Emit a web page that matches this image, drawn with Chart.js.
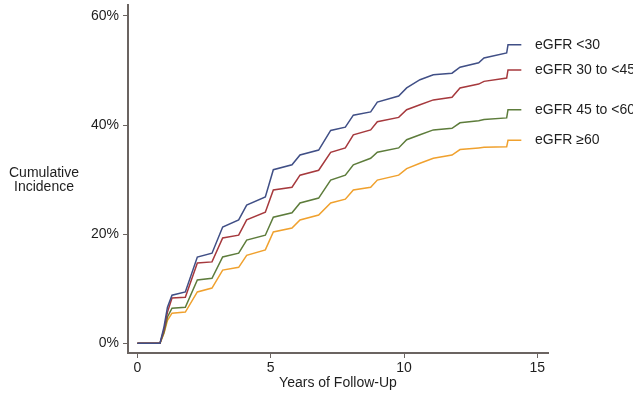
<!DOCTYPE html>
<html>
<head>
<meta charset="utf-8">
<script src="https://cdn.jsdelivr.net/npm/chart.js@4"></script>
<style>
  html, body { margin: 0; padding: 0; background: #fff; }
  #wrap { width: 633px; height: 393px; }
</style>
</head>
<body>
<div id="wrap"><canvas id="chart" width="633" height="393"></canvas></div>
<script>
// follow-up time (years), shared by all four curves
const years = [0, 0.85, 1.0, 1.13, 1.3, 1.8, 2.25, 2.8, 3.2, 3.8, 4.1, 4.8, 5.1, 5.8, 6.1, 6.8, 7.25, 7.8, 8.1, 8.75, 9.0, 9.8, 10.1, 10.6, 11.1, 11.8, 12.1, 12.8, 13.0, 13.85, 13.9, 14.4]

const egfrLt30   = [0, 0, 3.0, 6.6, 8.8, 9.4, 15.8, 16.5, 21.3, 22.6, 25.3, 26.8, 31.8, 32.7, 34.5, 35.4, 39.0, 39.6, 41.8, 42.4, 44.2, 45.3, 46.8, 48.3, 49.2, 49.5, 50.6, 51.4, 52.3, 53.2, 54.7, 54.7]
const egfr30to45 = [0, 0, 2.5, 5.7, 8.3, 8.4, 14.7, 14.9, 19.3, 19.8, 22.6, 24.0, 28.1, 28.6, 30.8, 31.7, 35.0, 35.8, 38.2, 39.1, 40.6, 41.4, 42.8, 43.7, 44.6, 45.1, 46.8, 47.5, 48.0, 48.6, 50.1, 50.1]
const egfr45to60 = [0, 0, 2.0, 4.8, 6.4, 6.6, 11.6, 11.9, 15.8, 16.5, 18.9, 19.8, 23.1, 23.9, 25.7, 26.6, 29.9, 30.8, 32.7, 33.9, 35.0, 35.8, 37.3, 38.2, 39.1, 39.4, 40.4, 40.8, 41.0, 41.3, 42.8, 42.8]
const egfrGe60   = [0, 0, 1.8, 4.2, 5.5, 5.7, 9.4, 10.1, 13.4, 13.9, 16.1, 17.1, 20.4, 21.1, 22.6, 23.5, 25.7, 26.4, 28.1, 28.6, 29.9, 30.8, 32.0, 33.0, 33.9, 34.5, 35.5, 35.8, 35.9, 36.0, 37.2, 37.2]

const seriesLabels = ['eGFR <30', 'eGFR 30 to <45', 'eGFR 45 to <60', 'eGFR \u226560']
const seriesColors = ['#404f86', '#a6393d', '#5d7c3b', '#f0a12e']
const xTicks = [0, 5, 10, 15]
const yTicks = [0, 20, 40, 60]

const axisColor = '#6b6461'
const textColor = '#1e1e1e'
const fontFamily = '"Liberation Sans", Arial, Helvetica, sans-serif'

const datasets = [egfrLt30, egfr30to45, egfr45to60, egfrGe60].map((values, i) => {
  return {
    label: seriesLabels[i],
    data: values.map((v, j) => ({ x: years[j], y: v })),
    borderColor: seriesColors[i],
    backgroundColor: seriesColors[i],
    borderWidth: 1.5,
    pointRadius: 0,
    tension: 0,
  }
})

// axis titles and the labels at the end of each curve
const textPlugin = {
  id: 'textPlugin',
  afterDraw(chart) {
    const { ctx, chartArea } = chart
    ctx.save()
    ctx.fillStyle = textColor
    ctx.textAlign = 'center'
    ctx.textBaseline = 'middle'
    ctx.font = '14px ' + fontFamily
    ctx.fillText('Cumulative', 44, 173)
    ctx.fillText('Incidence', 44, 187)
    ctx.fillText('Years of Follow-Up', (chartArea.left + chartArea.right) / 2, 383)

    ctx.textAlign = 'left'
    chart.data.datasets.forEach(ds => {
      const last = ds.data[ds.data.length - 1]
      const y = chart.scales.y.getPixelForValue(last.y)
      ctx.fillText(ds.label, 535, y)
    })
    ctx.restore()
  }
}

new Chart(document.getElementById('chart'), {
  type: 'line',
  data: { datasets },
  plugins: [textPlugin],
  options: {
    responsive: false,
    animation: false,
    layout: {
      padding: { top: 5, right: 85, left: 0, bottom: 0 },
    },
    plugins: {
      legend: { display: false },
      tooltip: { enabled: false },
    },
    scales: {
      x: {
        type: 'linear',
        min: -0.35,
        max: 15.4,
        afterBuildTicks: scale => { scale.ticks = xTicks.map(v => ({ value: v })) },
        afterFit: scale => { scale.height = 40; scale.paddingLeft = 0; scale.paddingRight = 0 },
        border: { display: true, color: axisColor, width: 2 },
        grid: { drawOnChartArea: false, drawTicks: true, tickLength: 5, color: axisColor, lineWidth: 1 },
        ticks: {
          color: textColor,
          padding: 2,
          maxRotation: 0,
          font: { family: fontFamily, size: 14 },
        },
      },
      y: {
        type: 'linear',
        min: -1.8,
        max: 62,
        afterBuildTicks: scale => { scale.ticks = yTicks.map(v => ({ value: v })) },
        afterFit: scale => { scale.width = 128; scale.paddingTop = 0; scale.paddingBottom = 0 },
        border: { display: true, color: axisColor, width: 2 },
        grid: { drawOnChartArea: false, drawTicks: true, tickLength: 5, color: axisColor, lineWidth: 1 },
        ticks: {
          color: textColor,
          padding: 4,
          font: { family: fontFamily, size: 14 },
          callback: v => v + '%',
        },
      },
    },
  },
})
</script>
</body>
</html>
